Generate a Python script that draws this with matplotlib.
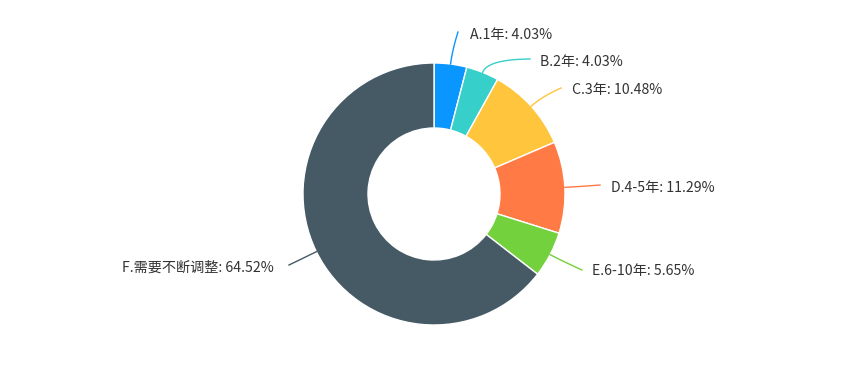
import numpy as np
import matplotlib.pyplot as plt

plt.rcParams['font.family'] = ['Noto Sans CJK SC', 'DejaVu Sans']

# data
categories = ["A.1年", "B.2年", "C.3年", "D.4-5年", "E.6-10年", "F.需要不断调整"]
counts = [5, 5, 13, 14, 7, 80]
colors = ["#0A96FF", "#36CFC9", "#FFC53D", "#FF7A45", "#73D13D", "#455A64"]

W, H = 868, 388
# label line end points and text anchors (pixel layout, y from top)
line_ends = [(458, 32), (530, 59), (561, 88), (600, 185), (582, 270), (289, 265)]
text_pos = [(470, 35), (540, 62), (572, 90), (611, 188), (592, 271), (274, 268)]

fig = plt.figure(figsize=(W / 100, H / 100), dpi=100)
ax = fig.add_axes([0, 0, 1, 1])
ax.axis('off')

cx, cy, R = 434, H - 194, 131
wedges, _ = ax.pie(counts, radius=R, center=(cx, cy), startangle=90,
                   counterclock=False, colors=colors,
                   wedgeprops=dict(width=65, edgecolor='white', linewidth=1))
ax.set_xlim(0, W)
ax.set_ylim(0, H)
ax.set_aspect('equal')

total = sum(counts)
for w, cat, n, col, (ex, ey), (tx, ty) in zip(wedges, categories, counts, colors,
                                              line_ends, text_pos):
    mid = np.deg2rad((w.theta1 + w.theta2) / 2)
    p0 = np.array([cx + R * np.cos(mid), cy + R * np.sin(mid)])
    p1 = np.array([cx + (R + 14) * np.cos(mid), cy + (R + 14) * np.sin(mid)])
    p2 = np.array([ex, H - ey])
    t = np.linspace(0, 1, 30)[:, None]
    curve = (1 - t) ** 2 * p0 + 2 * (1 - t) * t * p1 + t ** 2 * p2
    ax.plot(curve[:, 0], curve[:, 1], color=col, lw=1)
    ha = 'right' if tx < cx else 'left'
    ax.text(tx, H - ty, f"{cat}: {n / total * 100:.2f}%", ha=ha, va='center',
            fontsize=10.2, color='#333333')

fig.savefig("out.png", dpi=100)
